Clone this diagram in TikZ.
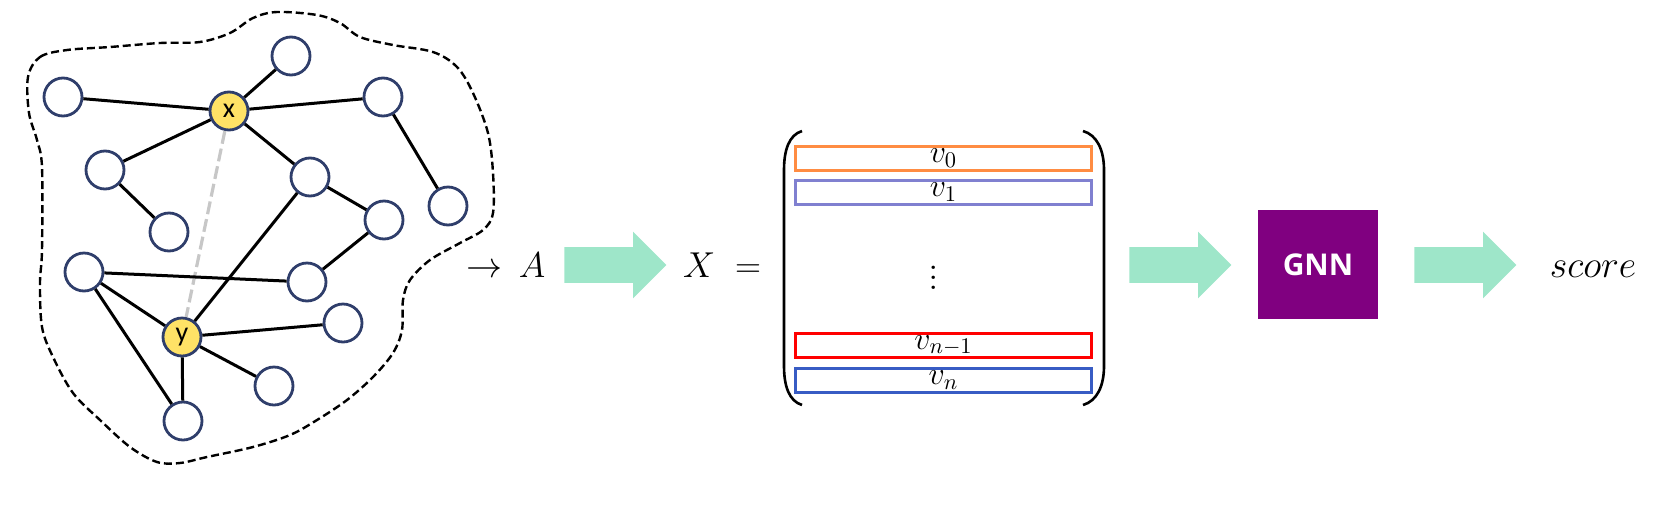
\RequirePackage{fix-cm}
\documentclass[tikz,border=0pt]{standalone}
\usepackage{fontspec}
\newfontfamily\labelfont{Carlito}
\newfontfamily\boxfont{Open Sans}
\usetikzlibrary{shapes.arrows, positioning}
\definecolor{nodeblue}{RGB}{47,62,107}
\definecolor{nodeyellow}{RGB}{255,226,102}
\definecolor{mint}{RGB}{158,230,201}
\definecolor{rowzero}{RGB}{255,140,66}
\definecolor{rowone}{RGB}{128,128,208}
\definecolor{rowlast}{RGB}{56,92,196}
\definecolor{gnnpurple}{RGB}{128,0,128}
\tikzset{flow/.style = { single arrow, fill = mint, inner xsep = 0pt, inner ysep = 8.75pt, minimum height = 51pt, single arrow head extend = 7.75pt, anchor = tail }}

\begin{document}
\begin{tikzpicture}[x = 0.5pt, y = -0.5pt,
		vertex/.style = { draw = nodeblue, fill = white, circle, line width = 1.4pt, minimum size = 19pt, inner sep = 0pt, font = \labelfont\fontsize{14}{14}\selectfont },
		target/.style = { vertex, fill = nodeyellow },
		edge/.style = { line width = 1.5pt },
		row/.style = { draw, rectangle, line width = 1.3pt, minimum width = 148.2pt, minimum height = 12.2pt, inner sep = 0pt, font = \fontsize{16}{16}\selectfont },
		big/.style = { font = \fontsize{18}{22}\selectfont, inner sep = 0pt, anchor = base }]
		\useasboundingbox (0,0) rectangle (1679,509);

		% subgraph around the pair
		\draw [line width = 1.2pt, dash pattern = on 4pt off 2pt] plot [smooth cycle, tension = 0.55] coordinates {
			(28,77) (40,57) (67,50) (110,47) (160,43) (200,42) (230,33) (253,18) (277,12) (317,15) (340,23) (360,37)
			(393,45) (433,52) (457,67) (473,93) (488,133) (493,173) (493,213) (483,230) (460,243) (430,260) (410,280)
			(403,300) (402,330) (393,353) (373,377) (347,400) (317,420) (290,435) (253,447) (207,457) (180,463)
			(157,462) (130,447) (100,420) (73,393) (53,357) (42,327) (40,283) (42,250) (42,167) (37,140) (29,113)};

		\node [target] (nx) at (229,111) {x};
		\node [target] (ny) at (182,337) {y};
		\node [vertex] (g1)  at (291,56)  {};
		\node [vertex] (g2)  at (63,97)   {};
		\node [vertex] (g3)  at (383,97)  {};
		\node [vertex] (g4)  at (105,170) {};
		\node [vertex] (g5)  at (169,232) {};
		\node [vertex] (g6)  at (310,177) {};
		\node [vertex] (g7)  at (448,206) {};
		\node [vertex] (g8)  at (384,220) {};
		\node [vertex] (g9)  at (84,272)  {};
		\node [vertex] (g10) at (307,282) {};
		\node [vertex] (g11) at (343,323) {};
		\node [vertex] (g12) at (274,386) {};
		\node [vertex] (g13) at (183,421) {};

		\draw [line width = 1.6pt, draw = black!22, dash pattern = on 6.5pt off 2.5pt] (nx) -- (ny);

		\draw [edge] (g2) -- (nx);
		\draw [edge] (g1) -- (nx);
		\draw [edge] (g3) -- (nx);
		\draw [edge] (g4) -- (nx);
		\draw [edge] (g6) -- (nx);
		\draw [edge] (g4) -- (g5);
		\draw [edge] (g3) -- (g7);
		\draw [edge] (g6) -- (g8);
		\draw [edge] (g8) -- (g10);
		\draw [edge] (g9) -- (g10);
		\draw [edge] (g6) -- (ny);
		\draw [edge] (g9) -- (ny);
		\draw [edge] (g9) -- (g13);
		\draw [edge] (ny) -- (g11);
		\draw [edge] (ny) -- (g12);
		\draw [edge] (ny) -- (g13);

		\node [big] (adj) at (506,277) {$\rightarrow\,A$};
		\node [flow] (f1) at (564,265) {};
		\node [big] (feat) at (722,277) {$X\;=$};

		% feature matrix
		\node [row, draw = rowzero]  (r0) at (943.5,158.5) {$v_0$};
		\node [row, draw = rowone, below = 3.5pt of r0] (r1) {$v_1$};
		\node [row, draw = rowlast]  (rn) at (943.5,380.5) {$v_n$};
		\node [row, draw = red, above = 4pt of rn] (rn1) {$v_{n-1}$};
		\node [font = \fontsize{16}{16}\selectfont, inner sep = 0pt] (dots) at (934,270) {\scalebox{1.3}{$\vdots$}};
		\draw [line width = 1.3pt] (802,131) .. controls (789,135) and (784,150) .. (784,170) -- (784,366) .. controls (784,386) and (789,401) .. (802,405);
		\draw [line width = 1.3pt] (1083,131) .. controls (1097,135) and (1104,150) .. (1104,170) -- (1104,366) .. controls (1104,386) and (1097,401) .. (1083,405);

		\node [flow] (f2) at (1129,265) {};
		\node [fill = gnnpurple, minimum width = 60pt, minimum height = 54.5pt, inner sep = 0pt, text = white, font = \boxfont\bfseries\fontsize{15}{15}\selectfont] (gnn) at (1318,264.5) {GNN};
		\node [flow] (f3) at (1414,265) {};
		\node [big, font = \fontsize{19}{22}\selectfont] (score) at (1593,277) {$score$};
	\end{tikzpicture}
\end{document}
